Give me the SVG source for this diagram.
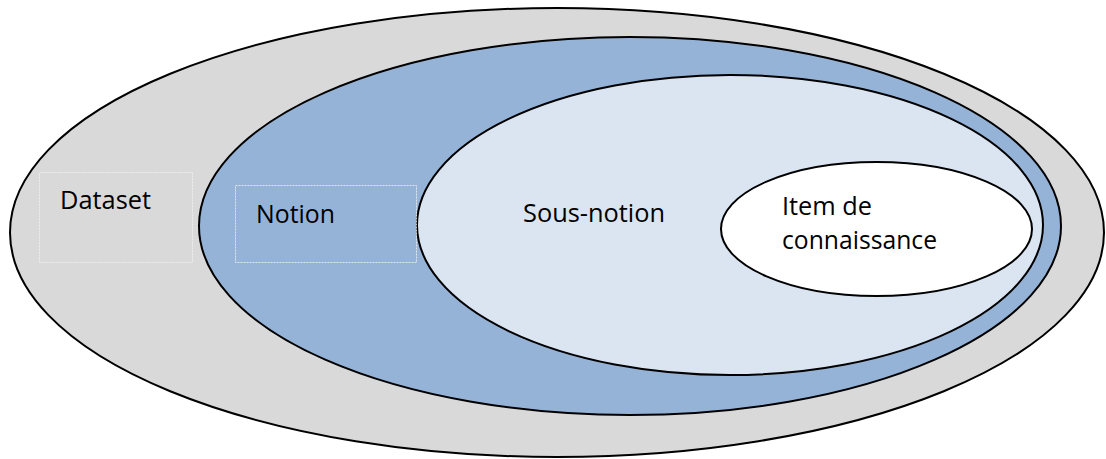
<svg xmlns="http://www.w3.org/2000/svg" width="1106" height="459" viewBox="0 0 1106 459">
<style>
.e{stroke:#000;stroke-width:2}
.lbl{font-family:"Open Sans","Liberation Sans",sans-serif;font-size:25px;fill:#000}
.box{fill:none;stroke:#f2f2f2;stroke-width:1;stroke-dasharray:2 1;opacity:0.8}
</style>
<rect width="1106" height="459" fill="#fff"/>
<g id="dataset">
<ellipse class="e" cx="557" cy="232.5" rx="547" ry="224.5" fill="#d9d9d9"/>
</g>
<g id="notion">
<ellipse class="e" cx="630" cy="226" rx="431" ry="189" fill="#95b3d7"/>
</g>
<g id="sous-notion">
<ellipse class="e" cx="730" cy="225" rx="313" ry="150" fill="#dbe5f1"/>
</g>
<g id="item">
<ellipse class="e" cx="876.5" cy="229" rx="155.5" ry="67" fill="#fff"/>
</g>
<g id="labels">
<rect class="box" x="39.5" y="172.5" width="153" height="90"/>
<text class="lbl" x="60" y="209" textLength="91" lengthAdjust="spacingAndGlyphs">Dataset</text>
<rect class="box" x="235.5" y="185.5" width="181" height="77"/>
<text class="lbl" x="256" y="222.5" textLength="79" lengthAdjust="spacingAndGlyphs">Notion</text>
<text class="lbl" x="523" y="222" textLength="142" lengthAdjust="spacingAndGlyphs">Sous-notion</text>
<text class="lbl" x="782" y="215" textLength="90" lengthAdjust="spacingAndGlyphs">Item de</text>
<text class="lbl" x="782" y="249" textLength="155" lengthAdjust="spacingAndGlyphs">connaissance</text>
</g>
<g id="connectors"/>
</svg>
